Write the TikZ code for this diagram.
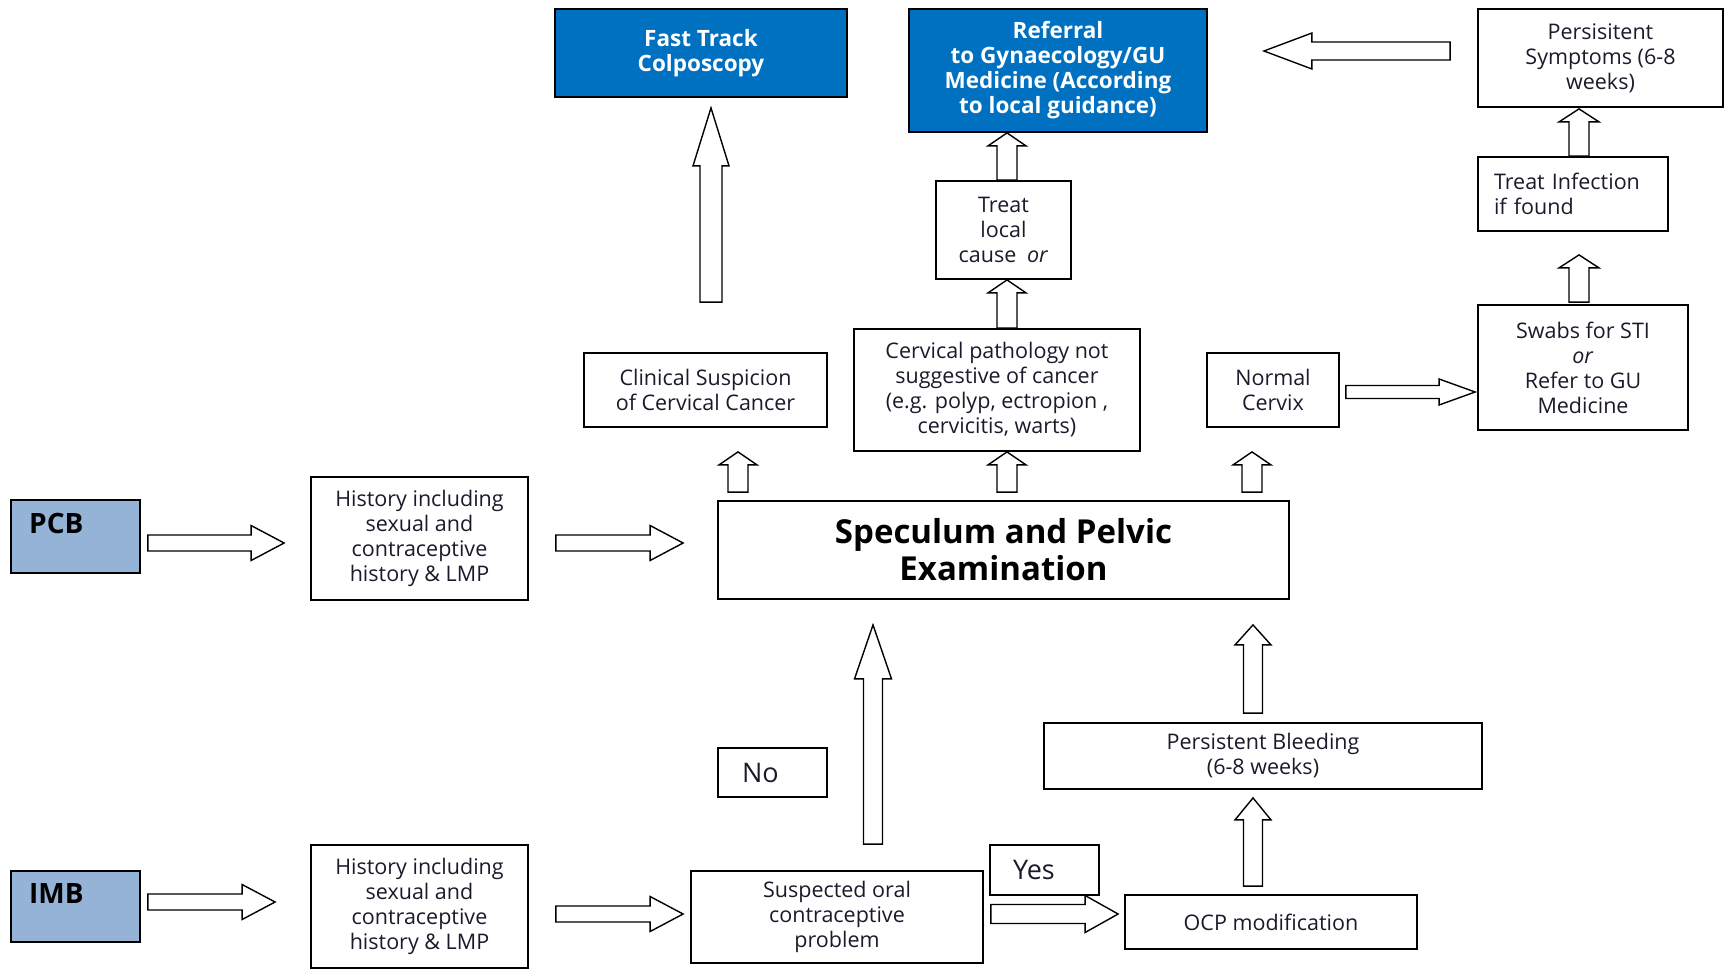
\documentclass[tikz,border=0pt]{standalone}
\usepackage{fontspec}
\setmainfont{Open Sans}
\usetikzlibrary{calc}
\definecolor{nhsblue}{HTML}{0070C0}
\definecolor{lightblue}{HTML}{95B3D7}
\definecolor{txt}{HTML}{1A1A2A}
\newcommand\hollowarrow[5]{%
  \coordinate (ha-h) at ($#2!#5!#1$);
  \draw[blockarrow] ($#1!#3!90:#2$) -- ($(ha-h)!#3!90:#2$) -- ($(ha-h)!#4!90:#2$) -- #2 -- ($(ha-h)!#4!-90:#2$) -- ($(ha-h)!#3!-90:#2$) -- ($#1!#3!-90:#2$) -- cycle;
}
\tikzset{
  box/.style={draw=black, line width=1.8pt, inner sep=0pt, align=center, text=txt, font=\fontsize{21.5}{25}\selectfont},
  bluebox/.style={box, fill=nhsblue, text=white, font=\bfseries\fontsize{22.5}{25}\selectfont},
  startbox/.style={draw=black, line width=1.8pt, fill=lightblue, inner sep=0pt},
  starttext/.style={anchor=west, inner sep=0pt, text=black, font=\bfseries\fontsize{28}{32}\selectfont},
  answer/.style={box, font=\fontsize{27}{30}\selectfont, align=left},
  blockarrow/.style={draw=black, fill=white, line width=1.4pt, line join=miter},
}
\begin{document}
\begin{tikzpicture}[x=1pt,y=-1pt]
\useasboundingbox (0,0) rectangle (1730,969);
% top row
\node[bluebox, minimum width=292pt, minimum height=88pt] (ft) at (701,53) {Fast Track\\Colposcopy};
\node[bluebox, minimum width=298pt, minimum height=123pt] (ref) at (1058,70.5) {Referral\\to Gynaecology/GU\\Medicine (According\\to local guidance)};
\node[box, minimum width=245pt, minimum height=98pt] (ps) at (1600.5,58) {Persisitent\\Symptoms (6-8\\weeks)};
\node[box, minimum width=190pt, minimum height=74pt, text width=158pt, align=left] (ti) at (1573,194) {Treat Infection\\if found};
\node[box, minimum width=210pt, minimum height=125pt] (sw) at (1583,367.5) {Swabs for STI\\\textit{or}\\Refer to GU\\Medicine};
\node[box, minimum width=135pt, minimum height=98pt] (tl) at (1003.5,230) {Treat\\local\\cause\enspace\textit{or}};
% middle row
\node[box, minimum width=243pt, minimum height=74pt] (cl) at (705.5,390) {Clinical Suspicion\\of Cervical Cancer};
\node[box, minimum width=286pt, minimum height=122pt] (cp) at (997,390) {Cervical pathology not\\suggestive of cancer\\(e.g. polyp, ectropion ,\\cervicitis, warts)};
\node[box, minimum width=132pt, minimum height=74pt] (nc) at (1273,390) {Normal\\Cervix};
\node[box, minimum width=571pt, minimum height=98pt, font=\bfseries\fontsize{33}{37}\selectfont, text=black] (sp) at (1003.5,550) {Speculum and Pelvic\\Examination};
% PCB row
\node[startbox, minimum width=129pt, minimum height=73pt] (pcb) at (75.5,536.5) {};
\node[starttext] (pcbt) at (29,523) {PCB};
\node[box, minimum width=217pt, minimum height=123pt] (h1) at (419.5,538.5) {History including\\sexual and\\contraceptive\\history \& LMP};
% lower part
\node[answer, minimum width=109pt, minimum height=49pt, text width=61pt] (no) at (772.5,772.5) {No};
\node[box, minimum width=438pt, minimum height=66pt] (pb) at (1263,756) {Persistent Bleeding\\(6-8 weeks)};
\node[startbox, minimum width=129pt, minimum height=71pt] (imb) at (75.5,906.5) {};
\node[starttext] (imbt) at (29,893) {IMB};
\node[box, minimum width=217pt, minimum height=123pt] (h2) at (419.5,906.5) {History including\\sexual and\\contraceptive\\history \& LMP};
\node[box, minimum width=292pt, minimum height=92pt] (su) at (837,917) {Suspected oral\\contraceptive\\problem};
\node[answer, minimum width=109pt, minimum height=50pt, text width=63pt] (yes) at (1044.5,870) {Yes};
\node[box, minimum width=292pt, minimum height=54pt] (ocp) at (1271,922) {OCP modification};
% arrows
\hollowarrow{([xshift=-27pt,yshift=7pt]ps.west)}{([xshift=56pt,yshift=19.5pt]ref.east)}{9pt}{18pt}{48pt}
\hollowarrow{([xshift=6pt]ti.north)}{([xshift=-21.5pt,yshift=-1pt]ps.south)}{10pt}{20pt}{13pt}
\hollowarrow{([xshift=-4pt,yshift=2pt]sw.north)}{([xshift=6pt,yshift=-23pt]ti.south)}{10pt}{20pt}{13pt}
\hollowarrow{([xshift=6pt,yshift=-2pt]nc.east)}{([xshift=-2pt,yshift=-24.5pt]sw.west)}{6.5pt}{13pt}{36pt}
\hollowarrow{([xshift=3.5pt]tl.north)}{([xshift=-51pt]ref.south)}{10pt}{19pt}{13pt}
\hollowarrow{([xshift=10pt]cp.north)}{([xshift=3.5pt]tl.south)}{10pt}{19pt}{13pt}
\hollowarrow{([xshift=5.5pt,yshift=50pt]cl.north)}{([xshift=10pt,yshift=-10pt]ft.south)}{11pt}{18pt}{58pt}
\hollowarrow{([xshift=-265.5pt,yshift=8pt]sp.north)}{([xshift=32.5pt,yshift=-24pt]cl.south)}{10pt}{19pt}{13pt}
\hollowarrow{([xshift=3.5pt,yshift=8pt]sp.north)}{([xshift=10pt]cp.south)}{10pt}{19pt}{13pt}
\hollowarrow{([xshift=248.5pt,yshift=8pt]sp.north)}{([xshift=-21pt,yshift=-24pt]nc.south)}{10pt}{19pt}{13pt}
\hollowarrow{([xshift=7pt,yshift=-6.5pt]pcb.east)}{([xshift=-26pt,yshift=-4.5pt]h1.west)}{8pt}{17.5pt}{33pt}
\hollowarrow{([xshift=27pt,yshift=-4.5pt]h1.east)}{([xshift=-34pt,yshift=7pt]sp.west)}{8pt}{17.5pt}{33pt}
\hollowarrow{([xshift=7pt,yshift=4.5pt]imb.east)}{([xshift=-35pt,yshift=4.5pt]h2.west)}{8pt}{17.5pt}{33pt}
\hollowarrow{([xshift=27pt,yshift=-7.5pt]h2.east)}{([xshift=-7pt,yshift=3pt]su.west)}{8pt}{17.5pt}{33pt}
\hollowarrow{([xshift=36pt,yshift=26pt]su.north)}{([xshift=-130.5pt,yshift=-25pt]sp.south)}{9.5pt}{18.5pt}{54pt}
\hollowarrow{([xshift=7pt,yshift=3pt]su.east)}{([xshift=-6pt,yshift=8pt]ocp.west)}{9.5pt}{18.5pt}{33pt}
\hollowarrow{([xshift=-18pt,yshift=8pt]ocp.north)}{([xshift=-10pt,yshift=-8pt]pb.south)}{9.5pt}{18pt}{22pt}
\hollowarrow{([xshift=-10pt,yshift=9pt]pb.north)}{([xshift=249.5pt,yshift=-25pt]sp.south)}{9.5pt}{18pt}{20pt}
\end{tikzpicture}
\end{document}
